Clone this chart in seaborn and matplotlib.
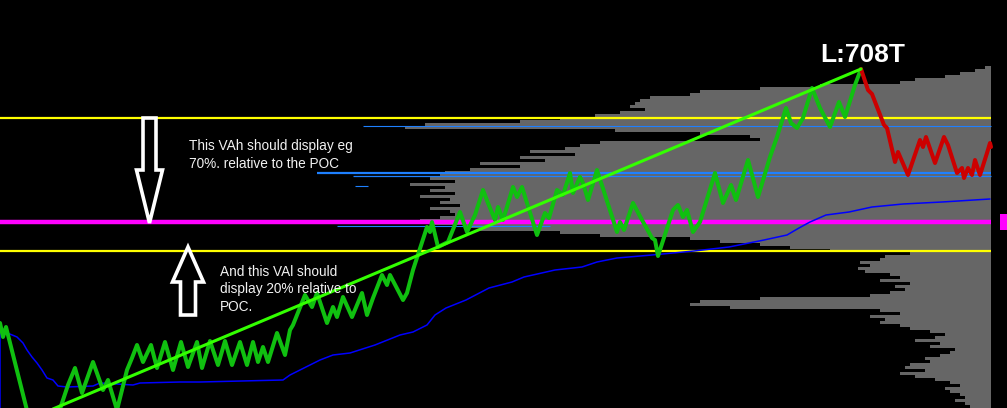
import numpy as np
import matplotlib.pyplot as plt
import seaborn as sns
from matplotlib.patches import Polygon

# price path: x = bar index, level = ticks above the bottom of the window
green_x = [0, 3, 6, 41, 68, 75, 82, 93, 103, 108, 117, 127, 132, 137, 143, 151, 157, 165, 173, 181,
           188, 197, 202, 210, 218, 225, 232, 240, 247, 253, 258, 263, 268, 277, 285, 290, 293, 305,
           312, 317, 327, 333, 337, 343, 352, 362, 367, 373, 382, 387, 390, 403, 407, 413, 427, 430,
           432, 438, 448, 460, 467, 475, 483, 488, 495, 498, 503, 513, 517, 522, 537, 545, 549, 557,
           563, 570, 573, 580, 583, 588, 597, 617, 620, 624, 633, 642, 652, 655, 658, 673, 678, 683,
           687, 693, 700, 715, 723, 731, 736, 748, 758, 770, 777, 786, 791, 797, 803, 812, 820, 830,
           839, 845, 855, 861]
green_level = [85, 71, 81, -58, 23, 40, 15, 46, 18, 28, -2, 38, 50, 63, 46, 63, 40, 66, 38, 66,
               41, 66, 40, 67, 43, 67, 43, 66, 43, 66, 46, 61, 46, 75, 53, 78, 83, 113,
               101, 115, 85, 101, 91, 111, 91, 115, 93, 110, 133, 123, 133, 108, 115, 138, 181, 176,
               186, 161, 166, 196, 176, 193, 218, 205, 188, 201, 188, 221, 211, 221, 173, 195, 190, 218,
               213, 235, 215, 231, 225, 208, 238, 176, 186, 178, 205, 188, 170, 168, 152, 198, 203, 191,
               198, 176, 186, 235, 205, 223, 208, 248, 211, 251, 271, 300, 285, 280, 290, 320, 300, 281,
               306, 291, 323, 339]

red_x = [861, 868, 872, 884, 887, 895, 898, 908, 920, 923, 926, 935, 944, 948, 957, 962, 964, 968,
         972, 975, 980, 987, 990, 991]
red_level = [339, 318, 314, 283, 280, 246, 256, 233, 268, 261, 271, 245, 271, 263, 235, 240, 230, 240,
             233, 248, 233, 255, 265, 261]

trend_x = [41, 861]
trend_level = [-6, 339]

vwap_x = [0, 0, 5, 17, 23, 27, 32, 37, 42, 47, 53, 58, 67, 93, 100, 133, 140, 180, 200, 283, 290,
          300, 320, 333, 350, 375, 400, 413, 427, 435, 446, 466, 489, 512, 524, 555, 582, 597, 617,
          652, 694, 729, 764, 787, 799, 810, 826, 849, 872, 903, 942, 990]
vwap_level = [-12, 83, 76, 71, 65, 58, 51, 45, 38, 30, 28, 22, 21, 22, 25, 23, 25, 26, 26, 28, 33,
              38, 48, 53, 55, 63, 73, 76, 83, 93, 100, 108, 120, 126, 131, 138, 141, 146, 150,
              153, 157, 161, 168, 173, 180, 186, 193, 196, 201, 204, 206, 209]

VAH = 290
VAL = 157
POC = 186
LAST_BAR = 991

# thin blue profile lines: level, first bar, last bar
blue_levels = [282.5, 235.3, 232, 222, 182.5]
blue_start = [363, 317, 353, 355, 337]
blue_end = [991, 991, 991, 368, 550]
blue_width = [0.8, 1.6, 0.9, 0.8, 0.8]

# volume profile, 3 tick rows from the top of the window down
profile_levels = np.arange(340.5, 0, -3)
profile_volume = [6, 16, 31, 46, 76, 91, 171, 231, 291, 301,
                  341, 351, 356, 361, 346, 371, 396, 431, 471, 566,
                  586, 376, 291, 241, 231, 391, 411, 426, 461, 416,
                  471, 446, 511, 471, 521, 546, 551, 561, 536, 581,
                  546, 561, 536, 571, 541, 551, 531, 561, 541, 536,
                  551, 571, 561, 526, 511, 431, 391, 301, 271, 231,
                  201, 161, 81, 106, 111, 131, 121, 133, 126, 101,
                  91, 111, 81, 96, 86, 101, 121, 231, 291, 301,
                  261, 111, 91, 121, 106, 111, 91, 81, 61, 46,
                  56, 76, 51, 61, 36, 41, 51, 66, 61, 81,
                  86, 66, 91, 76, 56, 41, 31, 46, 41, 31,
                  26, 36, 26, 21]

note_top = ["This VAh should display eg", "70%. relative to the POC"]
note_bottom = ["And this VAl should", "display 20% relative to", "POC."]

sns.set_style("dark", {"axes.facecolor": "black", "figure.facecolor": "black"})
plt.rcParams["font.family"] = ["Liberation Sans", "DejaVu Sans"]


def hollow_arrow(ax, x, tail, tip, shaft, head, head_len):
    d = np.sign(tip - tail)
    neck = tip - d * head_len
    pts = [(x - shaft, tail), (x - shaft, neck), (x - head, neck), (x, tip),
           (x + head, neck), (x + shaft, neck), (x + shaft, tail)]
    ax.add_patch(Polygon(pts, closed=True, fc="black", ec="white", lw=2.6, zorder=8))


fig = plt.figure(figsize=(10.07, 4.08), dpi=100)
ax = fig.add_axes([0, 0, 1, 1])

vol = np.array(profile_volume)
ax.barh(profile_levels, vol, left=LAST_BAR - vol, height=3, color="#666666", lw=0, zorder=1)

for lvl, x0, x1, w in zip(blue_levels, blue_start, blue_end, blue_width):
    ax.hlines(lvl, x0, x1, color="#1e80ff", lw=w, zorder=2)

ax.hlines([VAH, VAL], 0, LAST_BAR, color="#ffff00", lw=1.6, zorder=3)
ax.hlines(POC, 0, LAST_BAR, color="#ff00ff", lw=3.2, zorder=3)

sns.lineplot(x=vwap_x, y=vwap_level, sort=False, estimator=None, color="#0000ff", lw=1.1, ax=ax, zorder=4)
sns.lineplot(x=green_x, y=green_level, sort=False, estimator=None, color="#10c010", lw=2.9, ax=ax, zorder=5)
sns.lineplot(x=red_x, y=red_level, sort=False, estimator=None, color="#cc0000", lw=2.9, ax=ax, zorder=5)
sns.lineplot(x=trend_x, y=trend_level, sort=False, estimator=None, color="#33ff00", lw=2.2, ax=ax, zorder=6)

hollow_arrow(ax, 149.5, VAH, POC - 1, 6.5, 13, 53)
hollow_arrow(ax, 188, 93, VAL + 4, 7.5, 15.5, 35)

for i, line in enumerate(note_top):
    ax.text(189, 258 - i * 18, line, color="#f2f2f2", fontsize=9.8, va="baseline", zorder=9)
for i, line in enumerate(note_bottom):
    ax.text(220, 132.5 - i * 17.6, line, color="#f2f2f2", fontsize=9.8, va="baseline", zorder=9)

ax.text(820, 346, "L:708T", color="white", fontsize=19, fontweight="bold", va="baseline", zorder=9)
# POC price tag sticking in from the right edge
ax.text(1003, POC, " ", fontsize=8, va="center", ha="left",
        bbox=dict(fc="#ff00ff", ec="none", pad=2.5), zorder=9)

ax.set_xlim(0, 1007)
ax.set_ylim(0, 408)
ax.axis("off")

fig.savefig("out.png", dpi=100, facecolor="black")
plt.close()
